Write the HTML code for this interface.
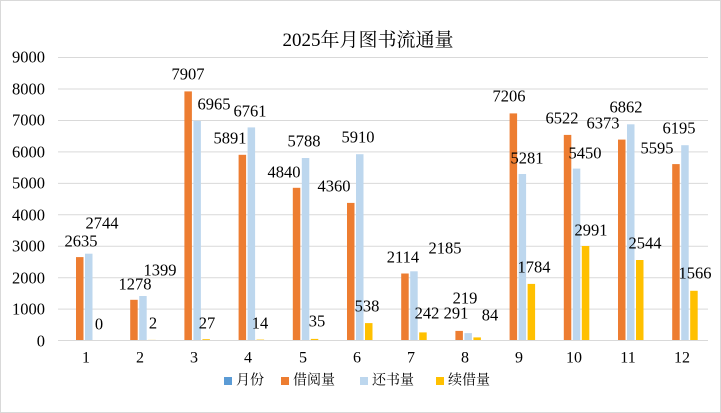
<!DOCTYPE html>
<html><head><meta charset="utf-8"><style>
html,body{margin:0;padding:0;background:#fff}
svg{display:block}
text{font-family:"Liberation Serif","Noto Serif CJK SC",serif;fill:#000}
</style></head><body>
<svg width="721" height="413" viewBox="0 0 721 413" xmlns="http://www.w3.org/2000/svg">
<rect x="0.5" y="0.5" width="720" height="412" fill="#fff" stroke="#d9d9d9"/>
<text x="368" y="46" font-size="19" text-anchor="middle">2025年月图书流通量</text>
<g stroke="#d9d9d9" stroke-width="1">
<line x1="58" x2="708" y1="57.5" y2="57.5"/><line x1="58" x2="708" y1="89" y2="89"/>
<line x1="58" x2="708" y1="120.5" y2="120.5"/><line x1="58" x2="708" y1="151.9" y2="151.9"/>
<line x1="58" x2="708" y1="183.4" y2="183.4"/><line x1="58" x2="708" y1="214.8" y2="214.8"/>
<line x1="58" x2="708" y1="246.3" y2="246.3"/><line x1="58" x2="708" y1="277.7" y2="277.7"/>
<line x1="58" x2="708" y1="309.1" y2="309.1"/><line x1="58" x2="708" y1="340.5" y2="340.5"/>
</g>
<g font-size="16.5" text-anchor="end" dominant-baseline="central">
<text x="45" y="57">9000</text><text x="45" y="89">8000</text><text x="45" y="120">7000</text>
<text x="45" y="152">6000</text><text x="45" y="183">5000</text><text x="45" y="215">4000</text>
<text x="45" y="246">3000</text><text x="45" y="278">2000</text><text x="45" y="309">1000</text>
<text x="45" y="341">0</text>
</g>
<g>
<rect x="76" y="257.1" width="7.5" height="82.9" fill="#ed7d31"/><rect x="85" y="253.7" width="7.5" height="86.3" fill="#bdd7ee"/>
<rect x="130.2" y="299.8" width="7.5" height="40.2" fill="#ed7d31"/><rect x="139.2" y="296" width="7.5" height="44" fill="#bdd7ee"/><rect x="148.2" y="339.9" width="7.5" height="0.1" fill="#ffc000"/>
<rect x="184.4" y="91.4" width="7.5" height="248.6" fill="#ed7d31"/><rect x="193.4" y="121" width="7.5" height="219" fill="#bdd7ee"/><rect x="202.4" y="339.2" width="7.5" height="0.8" fill="#ffc000"/>
<rect x="238.6" y="154.8" width="7.5" height="185.2" fill="#ed7d31"/><rect x="247.6" y="127.4" width="7.5" height="212.6" fill="#bdd7ee"/><rect x="256.6" y="339.6" width="7.5" height="0.4" fill="#ffc000"/>
<rect x="292.8" y="187.8" width="7.5" height="152.2" fill="#ed7d31"/><rect x="301.8" y="158" width="7.5" height="182" fill="#bdd7ee"/><rect x="310.8" y="338.9" width="7.5" height="1.1" fill="#ffc000"/>
<rect x="347" y="202.9" width="7.5" height="137.1" fill="#ed7d31"/><rect x="356" y="154.2" width="7.5" height="185.8" fill="#bdd7ee"/><rect x="365" y="323.1" width="7.5" height="16.9" fill="#ffc000"/>
<rect x="401.2" y="273.5" width="7.5" height="66.5" fill="#ed7d31"/><rect x="410.2" y="271.3" width="7.5" height="68.7" fill="#bdd7ee"/><rect x="419.2" y="332.4" width="7.5" height="7.6" fill="#ffc000"/>
<rect x="455.4" y="330.9" width="7.5" height="9.1" fill="#ed7d31"/><rect x="464.4" y="333.1" width="7.5" height="6.9" fill="#bdd7ee"/><rect x="473.4" y="337.4" width="7.5" height="2.6" fill="#ffc000"/>
<rect x="509.6" y="113.4" width="7.5" height="226.6" fill="#ed7d31"/><rect x="518.6" y="174" width="7.5" height="166" fill="#bdd7ee"/><rect x="527.6" y="283.9" width="7.5" height="56.1" fill="#ffc000"/>
<rect x="563.8" y="134.9" width="7.5" height="205.1" fill="#ed7d31"/><rect x="572.8" y="168.6" width="7.5" height="171.4" fill="#bdd7ee"/><rect x="581.8" y="246" width="7.5" height="94" fill="#ffc000"/>
<rect x="618" y="139.6" width="7.5" height="200.4" fill="#ed7d31"/><rect x="627" y="124.3" width="7.5" height="215.7" fill="#bdd7ee"/><rect x="636" y="260" width="7.5" height="80" fill="#ffc000"/>
<rect x="672.2" y="164.1" width="7.5" height="175.9" fill="#ed7d31"/><rect x="681.2" y="145.2" width="7.5" height="194.8" fill="#bdd7ee"/><rect x="690.2" y="290.8" width="7.5" height="49.2" fill="#ffc000"/>
</g>
<g font-size="16.5" text-anchor="middle" dominant-baseline="central">
<text x="81" y="241">2635</text><text x="102" y="223">2744</text><text x="99" y="324">0</text>
<text x="135" y="284">1278</text><text x="160" y="270">1399</text><text x="153" y="323">2</text>
<text x="188" y="74">7907</text><text x="214" y="104">6965</text><text x="207" y="323">27</text>
<text x="230" y="138">5891</text><text x="250" y="111">6761</text><text x="260" y="323">14</text>
<text x="284" y="172">4840</text><text x="304" y="141">5788</text><text x="317" y="321">35</text>
<text x="334" y="186">4360</text><text x="358" y="137">5910</text><text x="367" y="306">538</text>
<text x="403" y="257">2114</text><text x="445" y="248">2185</text><text x="427" y="313">242</text>
<text x="456" y="313">291</text><text x="465" y="298">219</text><text x="490" y="315">84</text>
<text x="509" y="96">7206</text><text x="527" y="158">5281</text><text x="534" y="267">1784</text>
<text x="562" y="118">6522</text><text x="585" y="153">5450</text><text x="591" y="230">2991</text>
<text x="603" y="123">6373</text><text x="626" y="107">6862</text><text x="645" y="243">2544</text>
<text x="657" y="148">5595</text><text x="679" y="128">6195</text><text x="695" y="273">1566</text>
</g>
<g font-size="16" text-anchor="middle" dominant-baseline="central">
<text x="86" y="358">1</text><text x="140" y="358">2</text><text x="194" y="358">3</text>
<text x="248" y="358">4</text><text x="303" y="358">5</text><text x="357" y="358">6</text>
<text x="411" y="358">7</text><text x="465" y="358">8</text><text x="519" y="358">9</text>
<text x="574" y="358">10</text><text x="628" y="358">11</text><text x="682" y="358">12</text>
</g>
<g font-size="14" dominant-baseline="central">
<rect x="224" y="377" width="8" height="8" fill="#5b9bd5"/><text x="236" y="381">月份</text>
<rect x="281" y="377" width="8" height="8" fill="#ed7d31"/><text x="293" y="381">借阅量</text>
<rect x="360" y="377" width="8" height="8" fill="#bdd7ee"/><text x="372" y="381">还书量</text>
<rect x="436" y="377" width="8" height="8" fill="#ffc000"/><text x="448" y="381">续借量</text>
</g>
</svg>
</body></html>
